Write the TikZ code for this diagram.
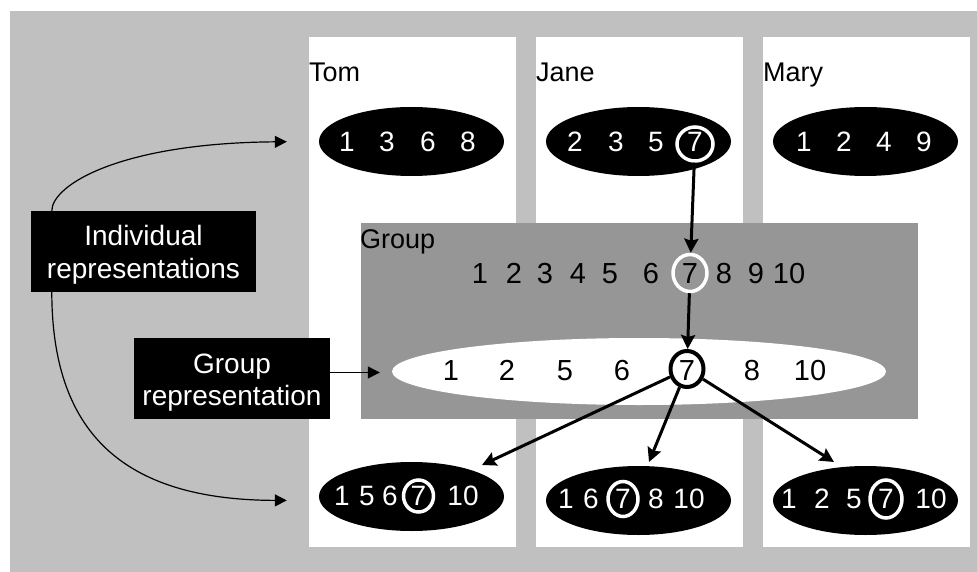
\documentclass[tikz,border=0pt]{standalone}
\usepackage{fontspec}
\setmainfont{Liberation Sans}
\usetikzlibrary{shapes.geometric,arrows.meta}
\definecolor{bggray}{RGB}{192,192,192}
\definecolor{grpgray}{RGB}{150,150,150}
\begin{document}
\begin{tikzpicture}[x=1pt,y=-1pt,
  dig/.style={font=\fontsize{28}{32}\selectfont, text=white, inner sep=0pt, anchor=base},
  gdig/.style={font=\fontsize{29}{32}\selectfont, text=black, inner sep=0pt, anchor=base},
  person/.style={font=\fontsize{27}{30}\selectfont, anchor=base west, inner sep=0pt},
  lbl/.style={font=\fontsize{28}{32}\selectfont, text=white, anchor=base, inner sep=0pt},
  blob/.style={ellipse, fill=black, inner sep=0pt, minimum width=185pt, minimum height=69pt},
  ring/.style={ellipse, draw=white, line width=3.5pt, inner sep=0pt},
  labelbox/.style={rectangle, fill=black, inner sep=0pt},
  bigarrow/.style={line width=3pt, -{Stealth[length=14pt,width=14pt,inset=2pt]}},
  thinarrow/.style={line width=1.2pt, -{Triangle[length=12pt,width=12pt]}},
]
\useasboundingbox (0,0) rectangle (977,572);
% backgrounds
\fill[bggray] (10,11) rectangle (985,580);
\fill[white] (309,37) rectangle (516,547);
\fill[white] (536,37) rectangle (743,547);
\fill[white] (763,37) rectangle (970,547);
\fill[grpgray] (361,223) rectangle (918,419);
\node[ellipse, fill=white, inner sep=0pt, minimum width=494pt, minimum height=67pt] (gell) at (639,371.5) {};

% names
\node[person] (nTom) at (309,82) {Tom};
\node[person] (nJane) at (536,82) {Jane};
\node[person] (nMary) at (763,82) {Mary};
\node[person] (nGroup) at (360,248) {Group};

% top ellipses
\node[blob] (tomT) at (411.5,141.5) {};
\node[blob] (janeT) at (638.5,141.5) {};
\node[blob] (maryT) at (865.5,141.5) {};
\foreach \x/\t [count=\i] in {347/1,387/3,428/6,468/8}
  \node[dig] (tt\i) at (\x,151.5) {\t};
\foreach \x/\t [count=\i] in {575/2,616/3,656/5,695/7}
  \node[dig] (jt\i) at (\x,151.5) {\t};
\node[ring, minimum width=36pt, minimum height=34pt] (j7) at (695,144) {};
\foreach \x/\t [count=\i] in {804/1,844/2,884/4,924/9}
  \node[dig] (mt\i) at (\x,151.5) {\t};

% group row
\foreach \x/\t [count=\i] in {480/1,514/2,545/3,578/4,610/5,651/6,690/7,724/8,756/9,789/10}
  \node[gdig] (gr\i) at (\x,283) {\t};
\node[ring, minimum width=34pt, minimum height=37pt] (gw7) at (690,273) {};

% group ellipse row
\foreach \x/\t [count=\i] in {451/1,507/2,565/5,622/6,687/7,752/8,810/10}
  \node[gdig] (ge\i) at (\x,380) {\t};
\node[ring, draw=black, line width=4pt, minimum width=33pt, minimum height=36pt] (gb7) at (687,369) {};

% bottom ellipses
\node[blob] (tomB) at (411.5,496.5) {};
\node[blob] (janeB) at (638.5,500.5) {};
\node[blob] (maryB) at (865.5,500.5) {};
\foreach \x/\t [count=\i] in {342/1,367/5,390/6,418.5/7,463/10}
  \node[dig] (tb\i) at (\x,505.5) {\t};
\node[ring, minimum width=30pt, minimum height=32pt] (tb7) at (418.5,496) {};
\foreach \x/\t [count=\i] in {566/1,591/6,623/7,656/8,689/10}
  \node[dig] (jb\i) at (\x,508.5) {\t};
\node[ring, minimum width=30pt, minimum height=35pt] (jb7) at (623,499) {};
\foreach \x/\t [count=\i] in {789/1,822/2,854/5,886/7,931/10}
  \node[dig] (mb\i) at (\x,508.5) {\t};
\node[ring, minimum width=32pt, minimum height=38pt] (mb7) at (886,499) {};

% label boxes
\node[labelbox, minimum width=225pt, minimum height=81pt] (irbox) at (143.5,251.5) {};
\node[lbl] (ir1) at (143.5,245) {Individual};
\node[lbl] (ir2) at (143.5,278) {representations};
\node[labelbox, minimum width=196pt, minimum height=81pt] (grbox) at (232,378.5) {};
\node[lbl] (gr1) at (232,373) {Group};
\node[lbl] (gr2) at (232,405) {representation};

% arrows
\coordinate (tipT) at (482,465);
\coordinate (tipJ) at (649,462);
\coordinate (tipM) at (834,462);
\draw[bigarrow] (j7) -- (gw7);
\draw[bigarrow] (gw7) -- (gb7);
\draw[bigarrow] (gb7) -- (tipT);
\draw[bigarrow] (gb7) -- (tipJ);
\draw[bigarrow] (gb7) -- (tipM);

\draw[thinarrow, shorten >=32pt] ([xshift=21pt]irbox.north west) .. controls (52,185) and (120,143) .. (tomT.west);
\draw[thinarrow, shorten >=32pt] ([xshift=21pt]irbox.south west) .. controls (52,430) and (120,500) .. ([yshift=-4pt]tomB.west);
\draw[thinarrow, shorten >=12pt] ([yshift=6pt]grbox.east) -- ([yshift=6pt]grbox.east -| gell.west);
\end{tikzpicture}
\end{document}
